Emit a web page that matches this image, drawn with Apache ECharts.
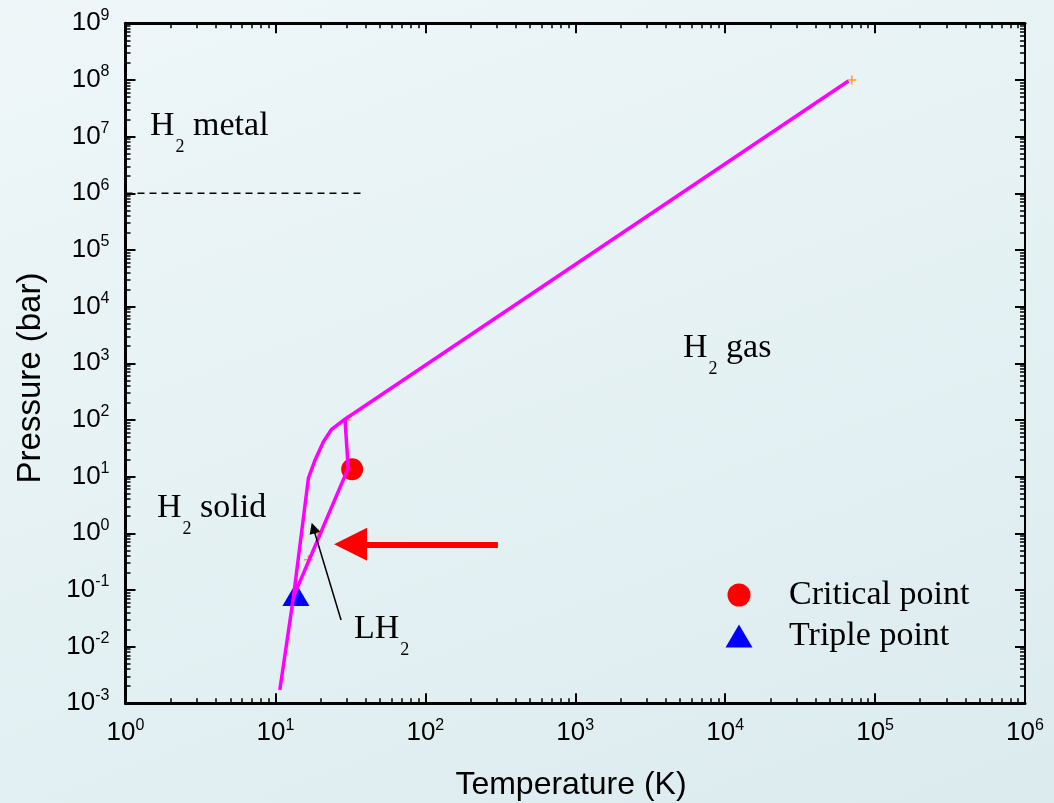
<!DOCTYPE html>
<html><head><meta charset="utf-8">
<script src="https://cdn.jsdelivr.net/npm/echarts@6/dist/echarts.min.js"></script>
<style>
html,body{margin:0;padding:0;width:1054px;height:803px;overflow:hidden;
background:linear-gradient(160deg,#eef6f8 0%,#e4f1f3 55%,#dcebee 100%);}
#c{width:1054px;height:803px;}
</style>
</head><body><div id="c"></div>
<script>
// ---- tick values ----
const xMajor = [1, 10, 100, 1e3, 1e4, 1e5, 1e6];
const yMajor = [1e-3, 1e-2, 1e-1, 1, 10, 100, 1e3, 1e4, 1e5, 1e6, 1e7, 1e8, 1e9];
const minorSteps = [2, 3, 4, 5, 6, 7, 8, 9];

// ---- phase boundary data (T in K, P in bar) ----
const meltT = [10.7, 13.2, 16.6, 18.4, 20.9, 23.7, 29.1];
const meltP = [0.00172, 0.076, 9.4, 19.7, 41.4, 68.5, 103];
const vapT = [13.2, 30.6, 29.1, 66400];
const vapP = [0.076, 14.1, 103, 9.6e7];
const criticalT = [32.5];
const criticalP = [13.5];
const tripleT = [13.7];
const tripleP = [0.083];
const metalT = [1, 38];
const metalP = [1e6, 1e6];
const plusT = [70000, 29.9, 19.3, 16.6];
const plusP = [1e8, 100, 1.0, 0.34];
const redArrowT = [305, 31.7];
const redArrowP = [0.64, 0.64];
const blackArrowT = [27.4, 17.9];
const blackArrowP = [0.0296, 1.24];

function minorOf(major) {
  const out = [];
  for (let i = 0; i < major.length - 1; i++) {
    minorSteps.forEach(m => out.push(major[i] * m));
  }
  return out;
}
const xMinor = minorOf(xMajor);
const yMinor = minorOf(yMajor);

const pairs = (a, b) => a.map((v, i) => [v, b[i]]);

const sans = "'Liberation Sans', Arial, sans-serif";
const serif = "'Liberation Serif', 'Times New Roman', serif";

const labelRich = {
  a: { fontFamily: sans, fontSize: 26, lineHeight: 32, color: '#000' },
  s: { fontFamily: sans, fontSize: 16, lineHeight: 16, verticalAlign: 'top', color: '#000' }
};
const expFmt = v => '{a|10}{s|' + Math.round(Math.log10(v)) + '}';

function makeAxis(pos, min, max, ticks, isMajor, showLabels, lineW) {
  const ax = {
    type: 'log', logBase: 10, min: min, max: max, position: pos, gridIndex: 0,
    splitLine: { show: false }, minorTick: { show: false },
    axisLine: { show: isMajor, onZero: false, lineStyle: { color: '#000', width: lineW } },
    axisTick: { show: true, inside: true, length: isMajor ? 10 : 5, customValues: ticks,
                lineStyle: { color: '#000', width: isMajor ? 2 : 1.5 } },
    axisLabel: { show: false }
  };
  if (showLabels) {
    ax.axisLabel = { show: true, customValues: ticks, formatter: expFmt, rich: labelRich,
                     margin: (pos === 'bottom') ? 14 : 16 };
  }
  return ax;
}

const chart = echarts.init(document.getElementById('c'), null, { renderer: 'canvas' });
const option = {
  animation: false,
  backgroundColor: 'transparent',
  grid: { left: 125.5, right: 29, top: 23.3, bottom: 99.7, containLabel: false, outerBoundsMode: 'none' },
  xAxis: [
    makeAxis('bottom', 1, 1e6, xMajor, true, true, 3),
    makeAxis('bottom', 1, 1e6, xMinor, false, false, 0),
    makeAxis('top', 1, 1e6, xMajor, true, false, 3),
    makeAxis('top', 1, 1e6, xMinor, false, false, 0)
  ],
  yAxis: [
    makeAxis('left', 1e-3, 1e9, yMajor, true, true, 3),
    makeAxis('left', 1e-3, 1e9, yMinor, false, false, 0),
    makeAxis('right', 1e-3, 1e9, yMajor, true, false, 2),
    makeAxis('right', 1e-3, 1e9, yMinor, false, false, 0)
  ],
  legend: {
    data: ['Critical point', 'Triple point'],
    orient: 'vertical', left: 725.5, top: 578, padding: 0, itemGap: 7,
    itemWidth: 27, itemHeight: 23, selectedMode: false,
    formatter: name => '{g| }{t|' + name + '}',
    textStyle: {
      rich: {
        g: { width: 31.5 },
        t: { fontFamily: serif, fontSize: 34, color: '#000' }
      }
    }
  },
  series: [
    { name: 'Critical point', type: 'scatter', data: pairs(criticalT, criticalP),
      symbol: 'circle', symbolSize: 22, itemStyle: { color: '#ff0000', opacity: 1 }, silent: true },
    { name: 'Triple point', type: 'scatter', data: pairs(tripleT, tripleP),
      symbol: 'triangle', symbolSize: [27, 23], itemStyle: { color: '#0000ff', opacity: 1 }, silent: true },
    { name: 'melting', type: 'line', data: pairs(meltT, meltP), symbol: 'none', silent: true,
      lineStyle: { color: '#ff00ff', width: 3.5 }, itemStyle: { color: '#ff00ff' } },
    { name: 'vapour', type: 'line', data: pairs(vapT, vapP), symbol: 'none', silent: true,
      lineStyle: { color: '#ff00ff', width: 3.5 }, itemStyle: { color: '#ff00ff' } },
    { name: 'metal', type: 'line', data: pairs(metalT, metalP), symbol: 'none', silent: true,
      lineStyle: { color: '#000', width: 1.5, type: [7, 5] } },
    { name: 'plus', type: 'scatter', data: pairs(plusT, plusP), silent: true,
      symbol: 'path://M5,0L5,10M0,5L10,5', symbolSize: 9,
      itemStyle: { color: 'rgba(0,0,0,0)', borderColor: '#ff9a2e', borderWidth: 1.5, opacity: 1 } },
    { name: 'redArrow', type: 'line', data: [], silent: true,
      markLine: { silent: true, animation: false, symbol: ['none', 'triangle'], symbolSize: 33,
        label: { show: false }, lineStyle: { color: '#ff0000', width: 6, type: 'solid', opacity: 1 },
        emphasis: { disabled: true },
        data: [[{ coord: [redArrowT[0], redArrowP[0]] }, { coord: [redArrowT[1], redArrowP[1]] }]] } },
    { name: 'blackArrow', type: 'line', data: [], silent: true,
      markLine: { silent: true, animation: false, symbol: ['none', 'triangle'], symbolSize: 11,
        label: { show: false }, lineStyle: { color: '#000', width: 1.5, type: 'solid', opacity: 1 },
        emphasis: { disabled: true },
        data: [[{ coord: [blackArrowT[0], blackArrowP[0]] }, { coord: [blackArrowT[1], blackArrowP[1]] }]] } }
  ],
  graphic: [
    { type: 'text', x: 571, y: 785, silent: true,
      style: { text: 'Temperature (K)', fontFamily: sans, fontSize: 32, fill: '#000', align: 'center', verticalAlign: 'middle' } },
    { type: 'text', x: 31, y: 378, rotation: Math.PI / 2, silent: true,
      style: { text: 'Pressure (bar)', fontFamily: sans, fontSize: 33, fill: '#000', align: 'center', verticalAlign: 'middle' } }
  ].concat([
    { t: '{m|H}{s|2}{m| metal}', x: 150, y: 109 },
    { t: '{m|H}{s|2}{m| gas}', x: 683, y: 331.4 },
    { t: '{m|H}{s|2}{m| solid}', x: 157, y: 491 },
    { t: '{m|LH}{s|2}', x: 354, y: 612.4 }
  ].map(o => ({
    type: 'text', x: o.x, y: o.y, silent: true,
    style: {
      text: o.t, align: 'left', verticalAlign: 'top', fill: '#000',
      rich: {
        m: { fontFamily: serif, fontSize: 34, verticalAlign: 'top', fill: '#000', color: '#000' },
        s: { fontFamily: serif, fontSize: 18, verticalAlign: 'top', padding: [29, 0, 0, 1], fill: '#000', color: '#000' }
      }
    }
  })))
};
chart.setOption(option);
</script>
</body></html>
